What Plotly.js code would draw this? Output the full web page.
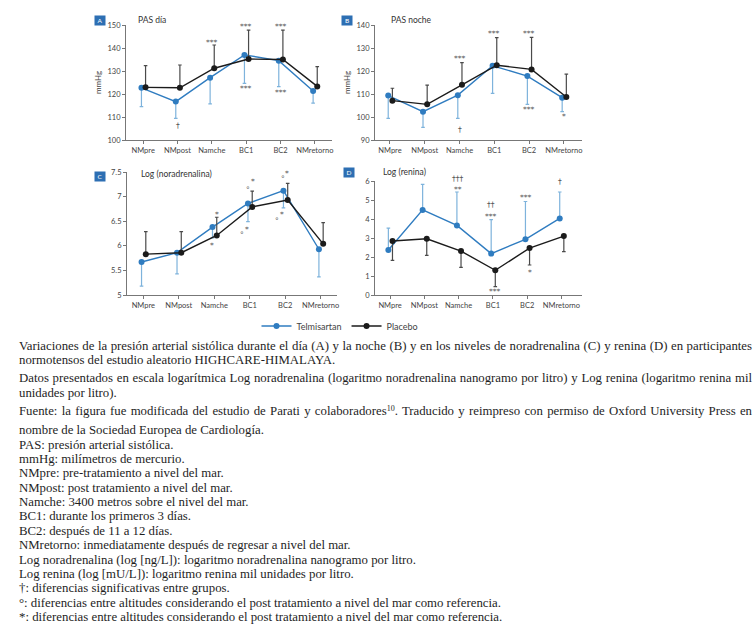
<!DOCTYPE html>
<html><head><meta charset="utf-8">
<script src="https://cdn.plot.ly/plotly-3.0.1.min.js"></script>
<style>
body{margin:0;background:#fff;}
#wrap{position:relative;width:756px;height:630px;overflow:hidden;}
#chart{position:absolute;left:0;top:0;width:756px;height:630px;}
#caption{position:absolute;left:19px;top:338.5px;width:733px;font-family:"Liberation Serif","DejaVu Serif",serif;font-size:12.8px;color:#1e1e1e;z-index:5;}
#caption div{line-height:14.4px;height:14.4px;white-space:nowrap;overflow:visible;}
#caption sup{font-size:8px;line-height:0;vertical-align:4px;}
</style></head>
<body>
<div id="wrap">
<div id="chart"></div>
<div id="caption">
<div class="j">Variaciones de la presión arterial sistólica durante el día (A) y la noche (B) y en los niveles de noradrenalina (C) y renina (D) en participantes</div>
<div>normotensos del estudio aleatorio HIGHCARE-HIMALAYA.</div>
<div class="j" style="margin-top:4.2px">Datos presentados en escala logarítmica Log noradrenalina (logaritmo noradrenalina nanogramo por litro) y Log renina (logaritmo renina mil</div>
<div>unidades por litro).</div>
<div class="j" style="margin-top:3.7px">Fuente: la figura fue modificada del estudio de Parati y colaboradores<sup>10</sup>. Traducido y reimpreso con permiso de Oxford University Press en</div>
<div style="margin-top:4.8px">nombre de la Sociedad Europea de Cardiología.</div>
<div>PAS: presión arterial sistólica.</div>
<div>mmHg: milímetros de mercurio.</div>
<div>NMpre: pre-tratamiento a nivel del mar.</div>
<div>NMpost: post tratamiento a nivel del mar.</div>
<div>Namche: 3400 metros sobre el nivel del mar.</div>
<div>BC1: durante los primeros 3 días.</div>
<div>BC2: después de 11 a 12 días.</div>
<div>NMretorno: inmediatamente después de regresar a nivel del mar.</div>
<div>Log noradrenalina (log [ng/L]): logaritmo noradrenalina nanogramo por litro.</div>
<div>Log renina (log [mU/L]): logaritmo renina mil unidades por litro.</div>
<div>†: diferencias significativas entre grupos.</div>
<div>°: diferencias entre altitudes considerando el post tratamiento a nivel del mar como referencia.</div>
<div>*: diferencias entre altitudes considerando el post tratamiento a nivel del mar como referencia.</div>
</div>
</div>
<script>
// ---------- DATA ----------
const categories = ['NMpre', 'NMpost', 'Namche', 'BC1', 'BC2', 'NMretorno'];
const seriesNames = ['Telmisartan', 'Placebo'];

// Panel A: PAS día (mmHg)
const telA      = [122.7, 116.7, 127.1, 137.0, 134.5, 121.3];
const telA_end  = [114.5, 109.4, 115.7, 124.6, 123.2, 116.0];
const plaA      = [122.9, 122.7, 131.2, 135.2, 135.0, 123.3];
const plaA_end  = [132.3, 132.6, 141.3, 147.8, 147.8, 131.9];

// Panel B: PAS noche (mmHg)
const telB      = [109.3, 102.3, 109.5, 122.3, 117.8, 108.4];
const telB_end  = [99.4, 95.5, 99.4, 110.3, 105.5, 102.3];
const plaB      = [107.1, 105.5, 114.0, 122.5, 120.7, 108.7];
const plaB_end  = [112.5, 113.9, 123.6, 134.5, 134.6, 118.6];

// Panel C: Log (noradrenalina)
const telC      = [5.67, 5.86, 6.38, 6.86, 7.12, 5.93];
const telC_end  = [5.18, 5.43, 6.16, 6.49, 6.77, 5.37];
const plaC      = [5.83, 5.86, 6.21, 6.79, 6.93, 6.04];
const plaC_end  = [6.29, 6.29, 6.58, 7.11, 7.27, 6.47];

// Panel D: Log (renina)
const telD      = [2.37, 4.48, 3.66, 2.18, 2.93, 4.03];
const telD_end  = [3.52, 5.82, 5.42, 3.97, 4.92, 5.42];
const plaD      = [2.84, 2.96, 2.31, 1.30, 2.47, 3.10];
const plaD_end  = [1.82, 2.09, 1.45, 0.44, 1.58, 2.28];

// significance labels: [category position, value, label]
const sigA = [[1, 106.4, '†'], [2, 142.6, '***'], [3, 149.3, '***'], [3, 122.4, '***'], [4, 149.3, '***'], [4, 120.7, '***']];
const sigB = [[2, 125.5, '***'], [2, 94.4, '†'], [3, 136.1, '***'], [4, 136.4, '***'], [4, 103.4, '***'], [5, 100.1, '*']];
const sigC = [[2.07, 6.64, '*'], [1.93, 6.0, '*'], [2.96, 7.15, '°'], [3.08, 7.30, '*'], [2.79, 6.23, '°'], [2.93, 6.34, '*'],
              [3.93, 7.36, '°'], [4.06, 7.47, '*'], [3.77, 6.52, '°'], [3.90, 6.64, '*']];
const sigD = [[1.97, 5.99, '†††'], [1.97, 5.56, '**'], [2.94, 4.74, '††'], [2.94, 4.15, '***'], [3.96, 5.14, '***'],
              [4.96, 5.97, '†'], [4.08, 1.20, '*'], [3.06, 0.21, '***']];

// ---------- STYLE ----------
const BLUE = '#2f7cc0', BLUE_ERR = '#7eb3dc', BLACK = '#1b1b1b', BLACK_ERR = '#4a4a4a';
const tickFont = {family: 'Lato, "Open Sans", sans-serif', size: 7.5, color: '#444'};
const W = 756, H = 630;

function lens(v, e) { return v.map((x, i) => Math.abs(e[i] - x)); }
function zeros(v) { return v.map(() => 0); }

function trace(n, vals, ends, isTel, showlegend) {
  const len = lens(vals, ends);
  const up = ends[0] > vals[0];
  return {
    type: 'scatter', mode: 'lines+markers',
    x: vals.map((_, i) => i + (isTel ? -0.05 : 0.07)),
    y: vals,
    xaxis: 'x' + (n === 1 ? '' : n), yaxis: 'y' + (n === 1 ? '' : n),
    name: isTel ? seriesNames[0] : seriesNames[1],
    showlegend: showlegend,
    line: {color: isTel ? BLUE : BLACK, width: 1.4},
    marker: {color: isTel ? BLUE : BLACK, size: 6},
    error_y: {type: 'data', symmetric: false,
      array: up ? len : zeros(len), arrayminus: up ? zeros(len) : len,
      color: isTel ? BLUE_ERR : BLACK_ERR, thickness: 1.2, width: 1.8},
    hoverinfo: 'x+y'
  };
}

const data = [
  trace(1, telA, telA_end, true, true), trace(1, plaA, plaA_end, false, true),
  trace(2, telB, telB_end, true, false), trace(2, plaB, plaB_end, false, false),
  trace(3, telC, telC_end, true, false), trace(3, plaC, plaC_end, false, false),
  trace(4, telD, telD_end, true, false), trace(4, plaD, plaD_end, false, false)
];

function xax(d0, d1, range, anchor) {
  return {domain: [d0 / W, d1 / W], range: range, anchor: anchor,
    tickvals: categories.map((_, i) => i), ticktext: categories,
    showline: true, linecolor: '#777', linewidth: 1, ticks: 'outside', ticklen: 3, tickcolor: '#777',
    tickfont: tickFont, showgrid: false, zeroline: false, fixedrange: true};
}
function yax(top, bot, range, dtick, anchor, title) {
  const a = {domain: [1 - bot / H, 1 - top / H], range: range, dtick: dtick, tick0: range[0], anchor: anchor,
    showline: true, linecolor: '#777', linewidth: 1, ticks: 'outside', ticklen: 3, tickcolor: '#777',
    tickfont: tickFont, showgrid: false, zeroline: false, fixedrange: true};
  if (title) a.title = {text: title, font: {family: 'Lato, sans-serif', size: 8, color: '#444'}, standoff: 4};
  return a;
}

const annotations = [];
function addSig(list, n) {
  list.forEach(s => annotations.push({x: s[0], y: s[1], text: s[2], xref: 'x' + (n === 1 ? '' : n), yref: 'y' + (n === 1 ? '' : n),
    showarrow: false, font: {family: 'DejaVu Sans, sans-serif', size: 7.5, color: '#555'}, xanchor: 'center', yanchor: 'middle',
    yshift: s[2] === '†††' ? 3 : 0}));
}
addSig(sigA, 1); addSig(sigB, 2); addSig(sigC, 3); addSig(sigD, 4);

function panelLabel(letter, cx, cy, title, tx, ty) {
  annotations.push({xref: 'paper', yref: 'paper', x: cx / W, y: 1 - cy / H, text: letter, showarrow: false,
    font: {family: 'Lato, sans-serif', size: 6.5, color: '#fff'}, bgcolor: '#2d6fb3', width: 10, height: 9,
    xanchor: 'center', yanchor: 'middle', borderpad: 0});
  annotations.push({xref: 'paper', yref: 'paper', x: tx / W, y: 1 - ty / H, text: title, showarrow: false,
    font: {family: 'Lato, sans-serif', size: 8.5, color: '#333'}, xanchor: 'left', yanchor: 'middle'});
}
panelLabel('A', 100, 20.5, 'PAS día', 136, 20);
panelLabel('B', 347, 20.5, 'PAS noche', 389, 20);
panelLabel('C', 99.5, 176.5, 'Log (noradrenalina)', 139, 173.5);
panelLabel('D', 349, 172.5, 'Log (renina)', 381, 172);

const layout = {
  width: W, height: H, margin: {l: 0, r: 0, t: 0, b: 0},
  paper_bgcolor: '#fff', plot_bgcolor: 'rgba(0,0,0,0)',
  showlegend: true,
  legend: {orientation: 'h', x: 340 / W, y: 1 - 326 / H, xanchor: 'center', yanchor: 'middle',
    font: {family: 'Lato, sans-serif', size: 9, color: '#444'}, itemwidth: 30,
    bgcolor: 'rgba(0,0,0,0)'},
  xaxis:  xax(126, 332, [-0.5, 5.5], 'y'),
  yaxis:  yax(25, 140, [100, 150], 10, 'x', 'mmHg'),
  xaxis2: xax(375, 582, [-0.43, 5.52], 'y2'),
  yaxis2: yax(25, 140, [90, 140], 10, 'x2', 'mmHg'),
  xaxis3: xax(127, 337, [-0.46, 5.46], 'y3'),
  yaxis3: yax(172, 295, [5, 7.5], 0.5, 'x3', null),
  xaxis4: xax(375, 582, [-0.44, 5.6], 'y4'),
  yaxis4: yax(181, 295, [0, 6], 1, 'x4', null),
  annotations: annotations
};

Plotly.newPlot('chart', data, layout, {displayModeBar: false, staticPlot: true});

// justify the full-width caption lines exactly to the column width
document.querySelectorAll('#caption div.j').forEach(d => {
  const span = document.createElement('span');
  while (d.firstChild) span.appendChild(d.firstChild);
  d.appendChild(span);
  const w = span.getBoundingClientRect().width;
  const spaces = (d.textContent.match(/ /g) || []).length;
  if (spaces) d.style.wordSpacing = ((733 - w) / spaces) + 'px';
});
</script>
</body></html>
